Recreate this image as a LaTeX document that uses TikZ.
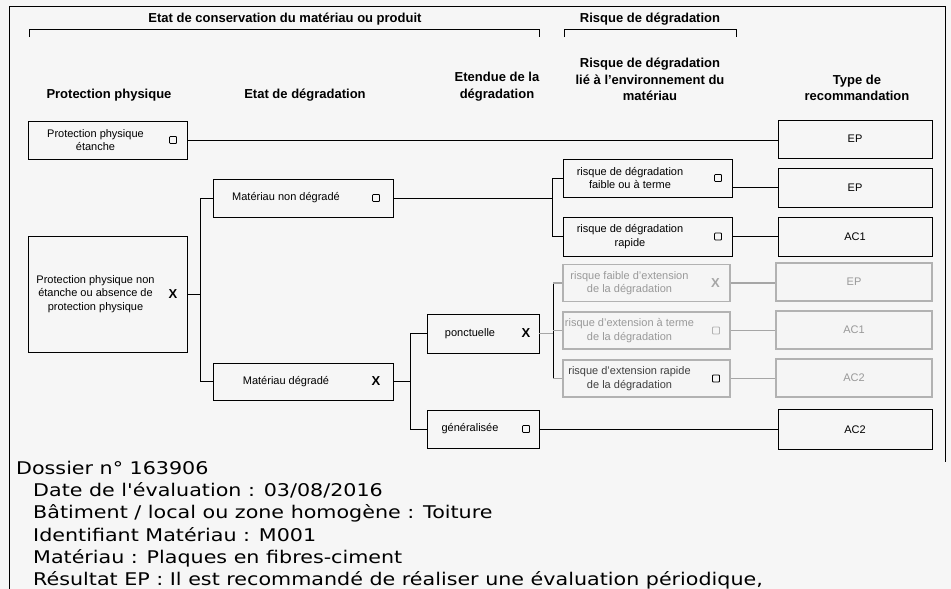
\documentclass[tikz,border=0pt]{standalone}
\usepackage{fontspec}
\setmainfont{Liberation Sans}
\newfontfamily\dvsans[FakeStretch=1.18]{DejaVu Sans}
\usepackage{xcolor}
\usepackage{tikz}
\usetikzlibrary{positioning}
\definecolor{paper}{RGB}{246,246,246}

\begin{document}
\begin{tikzpicture}[x=1pt,y=-1pt,
  box/.style={draw,line width=0.9pt,minimum height=38pt,inner sep=0pt},
  txt/.style={font=\fontsize{11}{13.5}\selectfont,align=center,inner sep=0pt},
  hd/.style={font=\fontsize{13}{16.5}\selectfont\bfseries,align=center,anchor=south,inner sep=0pt},
  chk/.style={draw,line width=0.8pt,minimum size=7pt,inner sep=0pt,rounded corners=0.8pt},
  crs/.style={font=\fontsize{13}{13}\selectfont\bfseries,inner sep=0pt},
  hid/.style={box,draw=black!30,line width=1.8pt,fill=black!4},
  htxt/.style={txt,text=black!40},
  ln/.style={line width=0.9pt},
  fd/.style={line width=1.5pt,draw=black!35},
  info/.style={font=\dvsans\fontsize{17.5}{22}\selectfont,anchor=base west,inner sep=0pt}]
\fill[paper](0,0)rectangle(951,589);
\useasboundingbox(0,0)rectangle(951,589);
\draw[ln](9,589)--(9,6)--(945,6)--(945,462);
% brackets
\node[hd,anchor=base] (t1) at (285,23) {Etat de conservation du matériau ou produit};
\node[hd,anchor=base] (t2) at (650,23) {Risque de dégradation};
\draw[ln](29,37)--(29,29)--(539,29)--(539,37);
\draw[ln](564,37)--(564,29)--(736,29)--(736,37);
% column heads
\node[hd] (h1) at (109,101) {Protection physique};
\node[hd] (h2) at (305,101) {Etat de dégradation};
\node[hd] (h3) at (497,101) {Etendue de la\\dégradation};
\node[hd] (h4) at (650,101) {Risque de dégradation\\lié à l'environnement du\\matériau};
\node[hd] (h5) at (857,101) {Type de\\recommandation};
% protection physique
\node[box,minimum width=159pt] (ppa) at (107.5,140) {};
\node[txt] (ppa-t) at ([xshift=-12pt]ppa.center) {Protection physique\\étanche};
\node[chk,left=10.5pt of ppa.east] (ppa-c) {};
\node[box,minimum width=159pt,minimum height=116pt] (ppb) at (107.5,294) {};
\node[txt] (ppb-t) at ([xshift=-12pt]ppb.center) {Protection physique non\\étanche ou absence de\\protection physique};
\node[crs,left=10pt of ppb.east] (ppb-c) {X};
% etat de degradation
\node[box,minimum width=180pt] (mnd) at (303,198) {};
\node[txt] (mnd-t) at ([xshift=-17pt]mnd.center) {Matériau non dégradé};
\node[chk,left=13.5pt of mnd.east] (mnd-c) {};
\node[box,minimum width=180pt,minimum height=37pt] (md) at (303,381.5) {};
\node[txt] (md-t) at ([xshift=-17pt]md.center) {Matériau dégradé};
\node[crs,left=13pt of md.east] (md-c) {X};
% etendue
\node[box,minimum width=112pt,minimum height=39pt] (ponc) at (483,333.5) {};
\node[txt] (ponc-t) at ([xshift=-13pt]ponc.center) {ponctuelle};
\node[crs,left=9pt of ponc.east] (ponc-c) {X};
\node[box,minimum width=112pt] (gen) at (483,429) {};
\node[txt] (gen-t) at ([xshift=-13pt]gen.center) {généralisée};
\node[chk,left=9.5pt of gen.east] (gen-c) {};
% risque
\node[box,minimum width=169pt] (rf) at (647.5,178) {};
\node[txt] (rf-t) at ([xshift=-17.5pt]rf.center) {risque de dégradation\\faible ou à terme};
\node[chk,left=10.5pt of rf.east] (rf-c) {};
\node[box,minimum width=169pt,minimum height=39pt] (rr) at (647.5,236.5) {};
\node[txt] (rr-t) at ([xshift=-17.5pt]rr.center) {risque de dégradation\\rapide};
\node[chk,left=10.5pt of rr.east] (rr-c) {};
\node[hid,minimum width=167pt,minimum height=37pt] (re1) at (646.5,283) {};
\node[htxt] (re1-t) at ([xshift=-17pt]re1.center) {risque faible d'extension\\de la dégradation};
\node[crs,text=black!35,left=11pt of re1.east] (re1-c) {X};
\node[hid,minimum width=167pt,minimum height=37pt] (re2) at (646.5,330.5) {};
\node[htxt] (re2-t) at ([xshift=-17pt]re2.center) {risque d'extension à terme\\de la dégradation};
\node[chk,draw=black!30,left=11pt of re2.east] (re2-c) {};
\node[hid,minimum width=167pt,minimum height=37pt] (re3) at (646.5,378.5) {};
\node[txt,text=black!75] (re3-t) at ([xshift=-17pt]re3.center) {risque d'extension rapide\\de la dégradation};
\node[chk,left=11pt of re3.east] (re3-c) {};
% recommandation
\node[box,minimum width=154pt] (ep1) at (855,139) {};
\node[txt] (ep1-t) at (ep1) {EP};
\node[box,minimum width=154pt,minimum height=39pt] (ep2) at (855,187.5) {};
\node[txt] (ep2-t) at (ep2) {EP};
\node[box,minimum width=154pt,minimum height=39pt] (ac1) at (855,236.5) {};
\node[txt] (ac1-t) at (ac1) {AC1};
\node[hid,minimum width=156pt] (hr1) at (854,282) {};
\node[htxt] (hr1-t) at (hr1) {EP};
\node[hid,minimum width=156pt] (hr2) at (854,330) {};
\node[htxt] (hr2-t) at (hr2) {AC1};
\node[hid,minimum width=156pt] (hr3) at (854,378) {};
\node[htxt] (hr3-t) at (hr3) {AC2};
\node[box,minimum width=154pt,minimum height=40pt] (ac2) at (855,429.5) {};
\node[txt] (ac2-t) at (ac2) {AC2};
% liaisons
\coordinate (j1) at (200,0);
\coordinate (j2) at (552,0);
\coordinate (j3) at (410,0);
\coordinate (j4) at (553,0);
\draw[ln](ppa.east)--(ppa.east-|ep1.west);
\draw[ln](ppb.east)--(ppb.east-|j1);
\draw[ln](mnd.west)--(mnd.west-|j1)|-(md.west);
\draw[ln](mnd.east)--(mnd.east-|j2);
\draw[ln](rf.west)--(rf.west-|j2)|-(rr.west);
\draw[ln](md.east)--(md.east-|j3);
\draw[ln](ponc.west)--(ponc.west-|j3)|-(gen.west);
\draw[ln](rf.east|-ep2.west)--(ep2.west);
\draw[ln](rr.east)--(ac1.west);
\draw[ln](gen.east)--(gen.east-|ac2.west);
\draw[fd](ponc.east)--(ponc.east-|j4);
\draw[ln](re1.west-|j4)--(re3.west-|j4);
\foreach \i in {1,2,3}{
  \draw[fd](re\i.west)--(re\i.west-|j4);
  \draw[fd](re\i.east)--(re\i.east-|hr\i.west);
}
% fiche
\node[info] (d0) at (16,474) {Dossier n° 163906};
\node[info] (d1) at (33,496) {Date de l'évaluation : 03/08/2016};
\node[info] (d2) at (33,518) {Bâtiment / local ou zone homogène : Toiture};
\node[info] (d3) at (33,541) {Identifiant Matériau : M001};
\node[info] (d4) at (33,563) {Matériau : Plaques en fibres-ciment};
\node[info] (d5) at (33,585) {Résultat EP : Il est recommandé de réaliser une évaluation périodique,};
\end{tikzpicture}
\end{document}
